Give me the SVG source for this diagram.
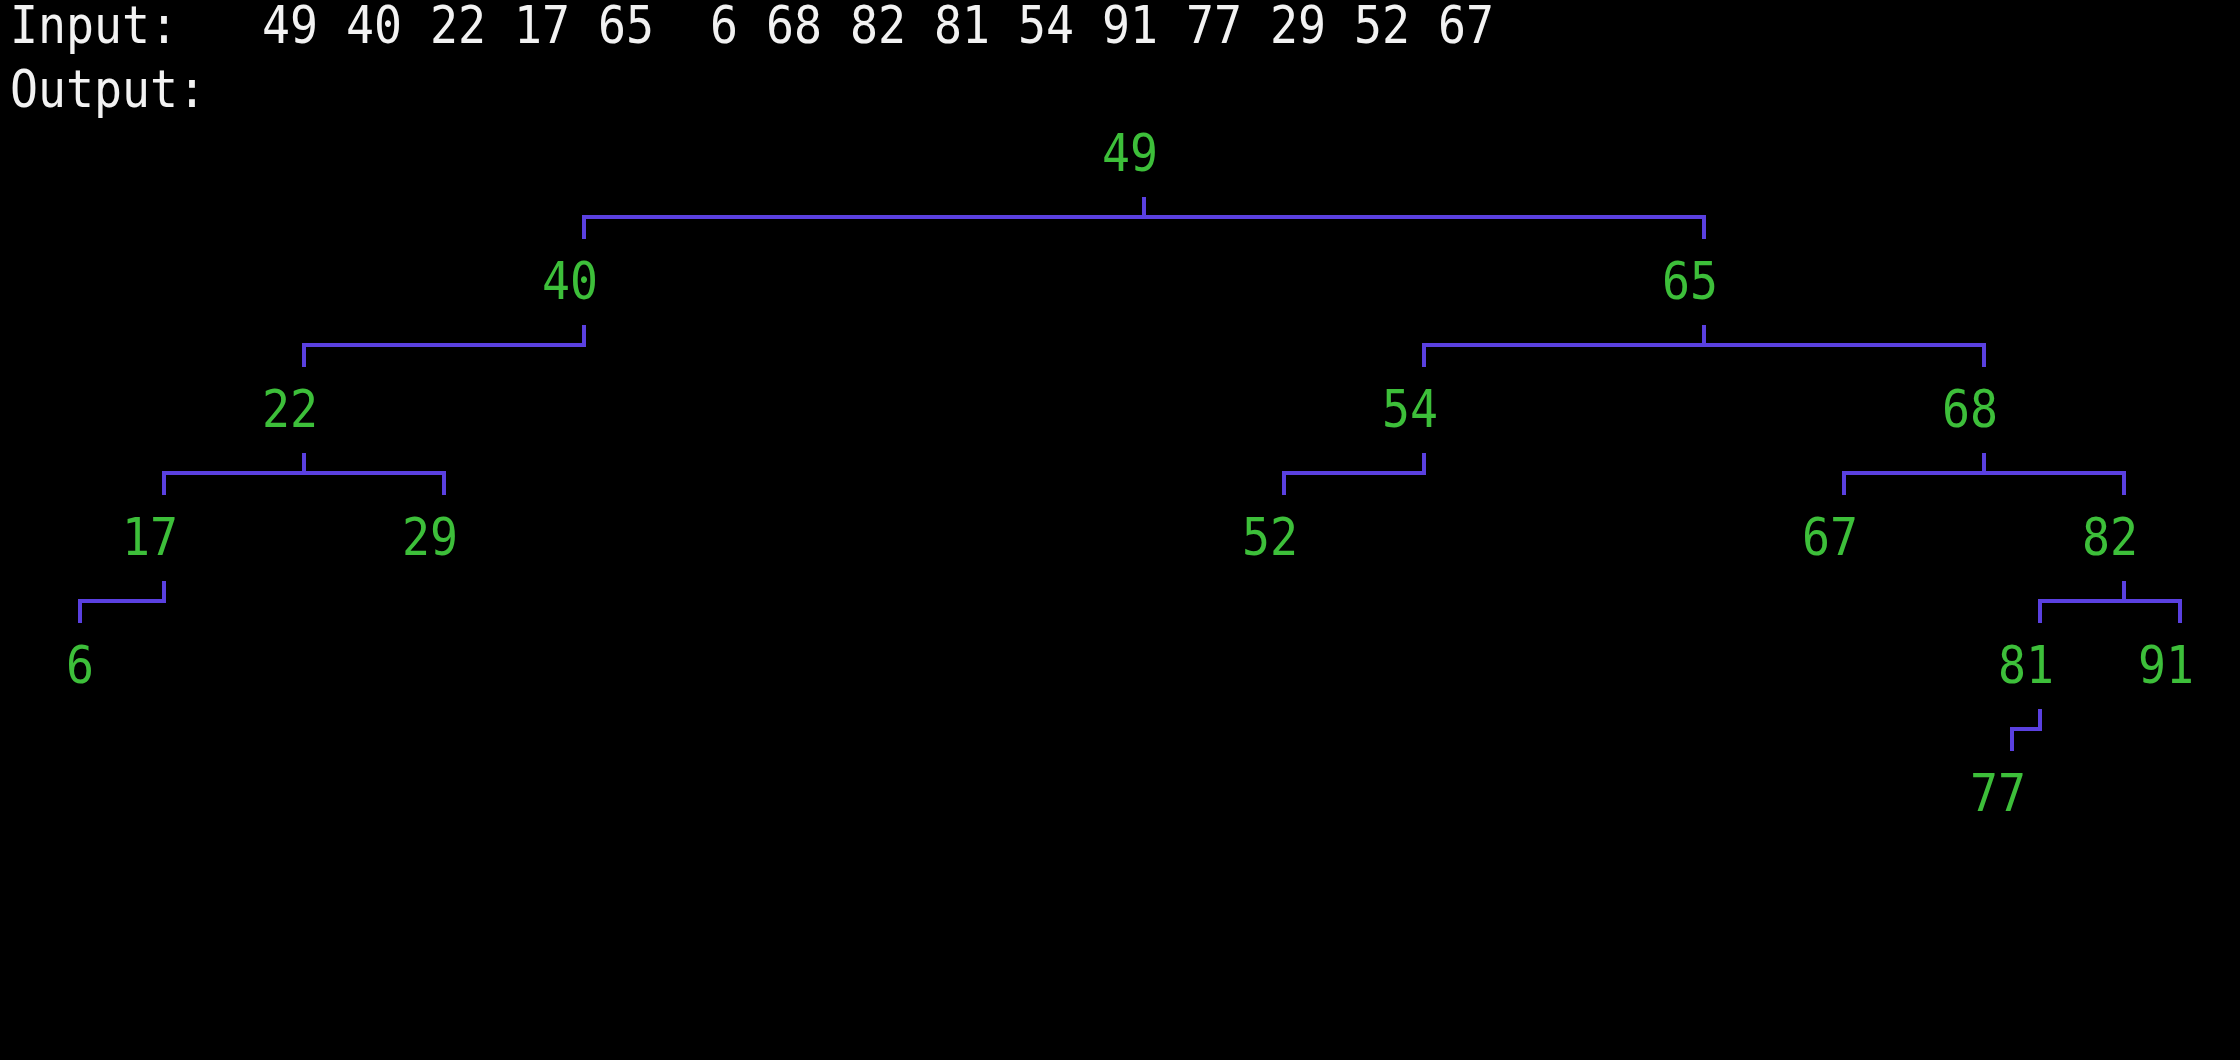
<svg xmlns="http://www.w3.org/2000/svg" width="2240" height="1060" viewBox="0 0 2240 1060">
<style>
text { font-family: "DejaVu Sans Mono", "Liberation Mono", monospace; font-size: 51px; white-space: pre; }
.hdr { fill: #f2f2f2; }
.lbl { fill: #3dbf3a; }
.conn path { fill: none; stroke: #5a40e0; stroke-width: 4; stroke-linejoin: miter; stroke-linecap: butt; }
</style>
<rect x="0" y="0" width="2240" height="1060" fill="#000000"/>
<g id="header">
<text class="hdr" x="10" y="43" textLength="1484" lengthAdjust="spacingAndGlyphs" xml:space="preserve">Input:   49 40 22 17 65  6 68 82 81 54 91 77 29 52 67</text>
<text class="hdr" x="10" y="107" textLength="196" lengthAdjust="spacingAndGlyphs">Output:</text>
</g>
<g id="connectors" class="conn">
<path d="M584 239 V217 H1704 V239 M1144 197 V217"/>
<path d="M304 367 V345 H584 V325"/>
<path d="M1424 367 V345 H1984 V367 M1704 325 V345"/>
<path d="M164 495 V473 H444 V495 M304 453 V473"/>
<path d="M1284 495 V473 H1424 V453"/>
<path d="M1844 495 V473 H2124 V495 M1984 453 V473"/>
<path d="M80 623 V601 H164 V581"/>
<path d="M2040 623 V601 H2180 V623 M2124 581 V601"/>
<path d="M2012 751 V729 H2040 V709"/>
</g>
<g id="n49"><text class="lbl" x="1102" y="171" textLength="56" lengthAdjust="spacingAndGlyphs">49</text></g>
<g id="n40"><text class="lbl" x="542" y="299" textLength="56" lengthAdjust="spacingAndGlyphs">40</text></g>
<g id="n65"><text class="lbl" x="1662" y="299" textLength="56" lengthAdjust="spacingAndGlyphs">65</text></g>
<g id="n22"><text class="lbl" x="262" y="427" textLength="56" lengthAdjust="spacingAndGlyphs">22</text></g>
<g id="n54"><text class="lbl" x="1382" y="427" textLength="56" lengthAdjust="spacingAndGlyphs">54</text></g>
<g id="n68"><text class="lbl" x="1942" y="427" textLength="56" lengthAdjust="spacingAndGlyphs">68</text></g>
<g id="n17"><text class="lbl" x="122" y="555" textLength="56" lengthAdjust="spacingAndGlyphs">17</text></g>
<g id="n29"><text class="lbl" x="402" y="555" textLength="56" lengthAdjust="spacingAndGlyphs">29</text></g>
<g id="n52"><text class="lbl" x="1242" y="555" textLength="56" lengthAdjust="spacingAndGlyphs">52</text></g>
<g id="n67"><text class="lbl" x="1802" y="555" textLength="56" lengthAdjust="spacingAndGlyphs">67</text></g>
<g id="n82"><text class="lbl" x="2082" y="555" textLength="56" lengthAdjust="spacingAndGlyphs">82</text></g>
<g id="n6"><text class="lbl" x="66" y="683" textLength="28" lengthAdjust="spacingAndGlyphs">6</text></g>
<g id="n81"><text class="lbl" x="1998" y="683" textLength="56" lengthAdjust="spacingAndGlyphs">81</text></g>
<g id="n91"><text class="lbl" x="2138" y="683" textLength="56" lengthAdjust="spacingAndGlyphs">91</text></g>
<g id="n77"><text class="lbl" x="1970" y="811" textLength="56" lengthAdjust="spacingAndGlyphs">77</text></g>
</svg>
